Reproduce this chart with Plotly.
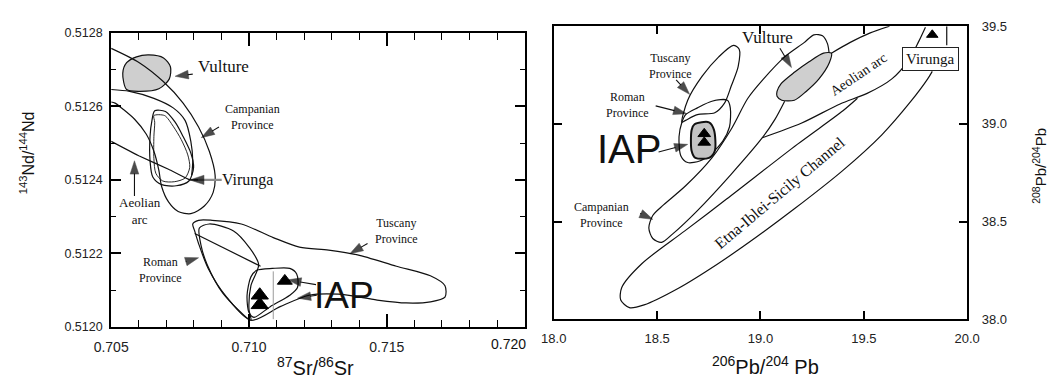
import plotly.graph_objects as go

# ---------------- 87Sr/86Sr vs 143Nd/144Nd (left panel) ----------------
sr_tick_vals = [0.705, 0.710, 0.715]
sr_tick_text = ["0.705", "0.710", "0.715"]
nd_tick_vals = [0.5120, 0.5122, 0.5124, 0.5126, 0.5128]

vulture_sr = [0.70542, 0.70556, 0.70592, 0.70637, 0.70690, 0.70715, 0.70711, 0.70673, 0.70602, 0.70556]
vulture_nd = [0.512690, 0.512719, 0.512735, 0.512740, 0.512732, 0.512708, 0.512675, 0.512648, 0.512641, 0.512646]

campanian_sr = [0.70500, 0.70602, 0.70690, 0.70761, 0.70817, 0.70856, 0.70877, 0.70870, 0.70838, 0.70789,
                0.70743, 0.70708, 0.70683, 0.70673, 0.70655, 0.70627, 0.70585, 0.70542, 0.70514, 0.70500]
campanian_nd = [0.512758, 0.512719, 0.512667, 0.512609, 0.512544, 0.512478, 0.512413, 0.512366, 0.512329, 0.512308,
                0.512314, 0.512340, 0.512382, 0.512426, 0.512478, 0.512525, 0.512565, 0.512593, 0.512609, 0.512612]

aeolian_upper_sr = [0.70500, 0.70567, 0.70655, 0.70725, 0.70768, 0.70789, 0.70796, 0.70792]
aeolian_upper_nd = [0.512646, 0.512641, 0.512622, 0.512596, 0.512562, 0.512505, 0.512452, 0.512413]

aeolian_lower_sr = [0.70500, 0.70602, 0.70708, 0.70785]
aeolian_lower_nd = [0.512505, 0.512465, 0.512429, 0.512400]

virunga_outer_sr = [0.70658, 0.70697, 0.70732, 0.70761, 0.70789, 0.70799, 0.70782, 0.70736, 0.70683, 0.70651, 0.70641, 0.70641, 0.70648]
virunga_outer_nd = [0.512588, 0.512586, 0.512557, 0.512518, 0.512473, 0.512434, 0.512397, 0.512384, 0.512387, 0.512408, 0.512452, 0.512518, 0.512562]
virunga_inner_sr = [0.70655, 0.70694, 0.70725, 0.70754, 0.70778, 0.70785, 0.70768, 0.70729, 0.70687, 0.70662, 0.70655, 0.70655, 0.70658]
virunga_inner_nd = [0.512575, 0.512575, 0.512546, 0.512510, 0.512468, 0.512434, 0.512405, 0.512395, 0.512397, 0.512418, 0.512458, 0.512518, 0.512557]

tuscany_sr = [0.70796, 0.70817, 0.70866, 0.70972, 0.71088, 0.71183, 0.71289, 0.71394, 0.71535, 0.71658, 0.71711, 0.71711,
              0.71658, 0.71570, 0.71465, 0.71324, 0.71218, 0.71113, 0.71007, 0.70919, 0.70852, 0.70817, 0.70803]
tuscany_nd = [0.512280, 0.512290, 0.512290, 0.512280, 0.512243, 0.512217, 0.512209, 0.512196, 0.512165, 0.512139, 0.512112, 0.512081,
              0.512068, 0.512065, 0.512073, 0.512089, 0.512086, 0.512055, 0.512018, 0.512081, 0.512159, 0.512227, 0.512261]

roman_sr = [0.70820, 0.70856, 0.70944, 0.71000, 0.71035, 0.71007, 0.71000, 0.71007, 0.70905, 0.70848, 0.70826]
roman_nd = [0.512269, 0.512280, 0.512261, 0.512217, 0.512170, 0.512112, 0.512047, 0.512018, 0.512092, 0.512170, 0.512222]

divide_sr = [0.70803, 0.71042]
divide_nd = [0.512254, 0.512165]

iap_sr = [0.71007, 0.71028, 0.71085, 0.71148, 0.71173, 0.71176, 0.71148, 0.71077, 0.71018, 0.71000, 0.70993]
iap_nd = [0.512136, 0.512154, 0.512159, 0.512159, 0.512144, 0.512107, 0.512086, 0.512055, 0.512026, 0.512039, 0.512086]

iap_split_sr = [0.71088, 0.71088]
iap_split_nd = [0.512151, 0.512021]

iap_samples_sr = [0.71039, 0.71039, 0.71130]
iap_samples_nd = [0.512086, 0.512060, 0.512125]

# ---------------- 206Pb/204Pb vs 208Pb/204Pb (right panel) ----------------
pb6_tick_vals = [18.0, 18.5, 19.0, 19.5, 20.0]
pb8_tick_vals = [38.0, 38.5, 39.0, 39.5]

vulture_pb6 = [19.080, 19.099, 19.164, 19.235, 19.305, 19.343, 19.333, 19.282, 19.221, 19.164, 19.103, 19.080]
vulture_pb8 = [39.166, 39.205, 39.264, 39.318, 39.362, 39.362, 39.313, 39.229, 39.166, 39.121, 39.121, 39.141]

# Campanian band: upper limb down to the tip, round the tail, lower limb up to the Vulture field
campanian_pb6 = [19.333, 19.324, 19.300, 19.258, 19.211, 19.117, 19.014, 18.939, 18.859, 18.765, 18.638, 18.531,
                 18.479, 18.460, 18.479, 18.521, 18.577, 18.695, 18.859, 19.009, 19.070, 19.117]
campanian_pb8 = [39.352, 39.411, 39.451, 39.456, 39.416, 39.343, 39.229, 39.131, 38.974, 38.826, 38.683, 38.585,
                 38.531, 38.467, 38.413, 38.393, 38.438, 38.556, 38.743, 38.929, 39.023, 39.116]

aeolian_lower_pb6 = [19.009, 19.197, 19.385, 19.516, 19.634, 19.718, 19.765, 19.798]
aeolian_lower_pb8 = [38.929, 39.003, 39.102, 39.156, 39.229, 39.328, 39.421, 39.495]

aeolian_upper_pb6 = [19.343, 19.432, 19.531, 19.624]
aeolian_upper_pb8 = [39.362, 39.416, 39.466, 39.500]

etna_pb6 = [19.831, 19.808, 19.728, 19.587, 19.399, 19.164, 18.977, 18.789, 18.601, 18.437, 18.366, 18.324, 18.329,
            18.427, 18.634, 18.836, 19.178, 19.399, 19.469]
etna_pb8 = [39.269, 39.229, 39.116, 38.944, 38.762, 38.565, 38.418, 38.280, 38.157, 38.073, 38.059, 38.098, 38.162,
            38.285, 38.452, 38.615, 38.895, 39.067, 39.131]

roman_pb6 = [18.638, 18.695, 18.765, 18.840, 18.854, 18.850, 18.817, 18.765, 18.709, 18.648, 18.615, 18.606, 18.620]
roman_pb8 = [39.047, 39.082, 39.116, 39.121, 39.082, 38.984, 38.910, 38.851, 38.811, 38.802, 38.836, 38.934, 39.008]

tuscany_pb6 = [18.620, 18.648, 18.718, 18.798, 18.869, 18.897, 18.892, 18.859, 18.826, 18.779, 18.695, 18.638]
tuscany_pb8 = [39.008, 39.121, 39.244, 39.343, 39.402, 39.382, 39.293, 39.195, 39.106, 39.057, 39.047, 39.018]

iap_pb6 = [18.681, 18.751, 18.775, 18.779, 18.751, 18.685, 18.667, 18.667]
iap_pb8 = [38.998, 39.008, 38.969, 38.861, 38.826, 38.826, 38.861, 38.969]

iap_samples_pb6 = [18.728, 18.728]
iap_samples_pb8 = [38.949, 38.905]

virunga_edge_pb6 = [19.901, 19.901]
virunga_edge_pb8 = [39.500, 39.402]
virunga_sample_pb6 = [19.831]
virunga_sample_pb8 = [39.456]

INK = "#111111"
SERIF = "Liberation Serif"
SANS = "Liberation Sans"

L = ("x", "y")
R = ("x2", "y2")

fig = go.Figure()


def closed(xs, ys):
    return list(xs) + [xs[0]], list(ys) + [ys[0]]


def outline(xs, ys, axes, close=False, fill=None, width=1.2, color=INK, smooth=0.8):
    if close:
        xs, ys = closed(xs, ys)
    fig.add_trace(go.Scatter(
        x=xs, y=ys, mode="lines",
        line=dict(color=color, width=width, shape="spline", smoothing=smooth),
        fill="toself" if fill else None, fillcolor=fill,
        xaxis=axes[0], yaxis=axes[1], hoverinfo="skip", showlegend=False))


def samples(xs, ys, axes, size):
    fig.add_trace(go.Scatter(
        x=xs, y=ys, mode="markers",
        marker=dict(symbol="triangle-up", size=size, color="black", opacity=1,
                    line=dict(color="black", width=1)),
        xaxis=axes[0], yaxis=axes[1], hoverinfo="skip", showlegend=False))


def pointer(tail, tip, axes, color=INK, width=1.1, head_size=14, with_head=True):
    # leader line from a label to a field, with an arrowhead aligned to the segment
    fig.add_trace(go.Scatter(
        x=[tail[0], tip[0]], y=[tail[1], tip[1]], mode="lines+markers" if with_head else "lines",
        line=dict(color=color, width=width),
        marker=dict(symbol="arrow", size=[0, head_size], angleref="previous", color="black",
                    line=dict(width=0.5, color="black")),
        xaxis=axes[0], yaxis=axes[1], hoverinfo="skip", showlegend=False))


# left panel fields
outline(vulture_sr, vulture_nd, L, close=True, fill="#cfcfcf")
outline(campanian_sr, campanian_nd, L)
outline(aeolian_upper_sr, aeolian_upper_nd, L)
outline(aeolian_lower_sr, aeolian_lower_nd, L, smooth=0.3)
outline(virunga_outer_sr, virunga_outer_nd, L, close=True)
outline(virunga_inner_sr, virunga_inner_nd, L, close=True, width=0.9)
outline(tuscany_sr, tuscany_nd, L, close=True)
outline(roman_sr, roman_nd, L, close=True)
outline(divide_sr, divide_nd, L, smooth=0)
outline(iap_sr, iap_nd, L, close=True)
outline(iap_split_sr, iap_split_nd, L, color="#9a9a9a", width=1.0, smooth=0)
samples(iap_samples_sr, iap_samples_nd, L, [15, 15, 13])

# right panel fields
outline(etna_pb6, etna_pb8, R)
outline(campanian_pb6, campanian_pb8, R)
outline(aeolian_lower_pb6, aeolian_lower_pb8, R)
outline(aeolian_upper_pb6, aeolian_upper_pb8, R)
outline(vulture_pb6, vulture_pb8, R, close=True, fill="#cfcfcf")
outline(tuscany_pb6, tuscany_pb8, R, close=True)
outline(roman_pb6, roman_pb8, R, close=True)
outline(iap_pb6, iap_pb8, R, close=True, fill="#c4c4c4", width=2.0)
outline(virunga_edge_pb6, virunga_edge_pb8, R, smooth=0)
samples(iap_samples_pb6, iap_samples_pb8, R, 11)
samples(virunga_sample_pb6, virunga_sample_pb8, R, 10)

# leader arrows, left panel
pointer((0.70796, 0.512688), (0.70732, 0.512682), L)
pointer((0.70891, 0.512544), (0.70827, 0.512515), L)
pointer((0.70901, 0.512400), (0.70800, 0.512400), L, color="#8c8c8c", width=2.2, with_head=False)
pointer((0.70815, 0.512400), (0.70785, 0.512400), L, head_size=15)
pointer((0.705845, 0.512356), (0.705845, 0.512452), L)
pointer((0.70771, 0.512178), (0.70817, 0.512188), L)
pointer((0.71430, 0.512227), (0.71366, 0.512199), L)
pointer((0.71243, 0.512115), (0.71141, 0.512128), L)
pointer((0.71246, 0.512086), (0.71176, 0.512078), L)

# leader arrows, right panel
pointer((19.094, 39.387), (19.150, 39.288), R)
pointer((18.592, 39.225), (18.657, 39.151), R)
pointer((18.493, 39.092), (18.643, 39.052), R)
pointer((18.507, 38.856), (18.648, 38.895), R)
pointer((18.418, 38.541), (18.479, 38.511), R)

annotations = []


def label(text, x, y, axes, size=12, font=SERIF, angle=0, **kw):
    annotations.append(dict(text=text, x=x, y=y, xref=axes[0], yref=axes[1], showarrow=False,
                            font=dict(family=font, size=size, color=INK), textangle=angle,
                            xanchor="center", yanchor="middle", **kw))


# left panel labels
label("Vulture", 0.70908, 0.512708, L, size=17)
label("Campanian<br>Province", 0.71011, 0.512570, L, size=12)
label("Virunga", 0.70995, 0.512400, L, size=16)
label("Aeolian<br>arc", 0.70606, 0.512314, L, size=13)
label("Roman<br>Province", 0.70680, 0.512154, L, size=12)
label("Tuscany<br>Province", 0.71535, 0.512261, L, size=12)
label("IAP", 0.71345, 0.512086, L, size=37, font=SANS)
label("0.720", 0.7200, 0.51200, L, size=14, font=SANS, yshift=-17, xshift=-16)

# right panel labels
label("Vulture", 19.033, 39.441, R, size=17)
label("Tuscany<br>Province", 18.563, 39.298, R, size=12)
label("Roman<br>Province", 18.357, 39.097, R, size=12)
label("IAP", 18.366, 38.870, R, size=40, font=SANS)
label("Campanian<br>Province", 18.230, 38.531, R, size=12)
label("Etna-Iblei-Sicily Channel", 19.095, 38.645, R, size=16, angle=-40)
label("Aeolian arc", 19.474, 39.254, R, size=14, angle=-34)
label("Virunga", 19.822, 39.333, R, size=15, bgcolor="white", bordercolor="#222", borderwidth=1, borderpad=3)

# axis titles
annotations += [
    dict(text="<sup>87</sup>Sr/<sup>86</sup>Sr", x=0.2915, y=0.0, xref="paper", yref="paper", yshift=-9,
         showarrow=False, font=dict(family=SANS, size=20, color=INK), xanchor="center", yanchor="bottom"),
    dict(text="<sup>206</sup>Pb/<sup>204</sup> Pb", x=0.7312, y=0.0, xref="paper", yref="paper", yshift=-8,
         showarrow=False, font=dict(family=SANS, size=20, color=INK), xanchor="center", yanchor="bottom"),
    dict(text="<sup>143</sup>Nd/<sup>144</sup>Nd", x=0.011, y=0.60, xref="paper", yref="paper", textangle=-90,
         xshift=-14, showarrow=False, font=dict(family=SANS, size=16, color=INK), xanchor="left", yanchor="middle"),
    dict(text="<sup>208</sup>Pb/<sup>204</sup>Pb", x=0.998, y=0.566, xref="paper", yref="paper", textangle=-90,
         xshift=13, showarrow=False, font=dict(family=SANS, size=15, color=INK), xanchor="right", yanchor="middle"),
]

axis_common = dict(showgrid=False, zeroline=False, showline=True, linecolor="black", linewidth=2,
                   mirror="allticks", ticks="inside", tickcolor="black", tickwidth=1.5)

fig.update_layout(
    width=1053, height=380, margin=dict(l=0, r=0, t=0, b=0),
    paper_bgcolor="white", plot_bgcolor="white", showlegend=False,
    annotations=annotations,
    xaxis=dict(domain=[96 / 1053, 522 / 1053], range=[0.705, 0.720], tickvals=sr_tick_vals,
               ticktext=sr_tick_text, ticklen=13, ticklabelstandoff=6,
               tickfont=dict(family=SANS, size=14, color="#222"),
               minor=dict(dtick=0.001, tick0=0.705, ticks="inside", ticklen=7, tickcolor="black", tickwidth=1.2),
               anchor="y", **axis_common),
    yaxis=dict(domain=[1 - 333 / 380, 1 - 27 / 380], range=[0.5120, 0.5128], tickvals=nd_tick_vals,
               tickformat=".4f", ticklen=10, ticklabelstandoff=4,
               tickfont=dict(family=SANS, size=12.5, color="#222"),
               minor=dict(dtick=0.0001, tick0=0.5120, ticks="inside", ticklen=5, tickcolor="black", tickwidth=1.2),
               anchor="x", **axis_common),
    xaxis2=dict(domain=[552 / 1053, 978 / 1053], range=[18.0, 20.0], tickvals=pb6_tick_vals,
                tickformat=".1f", ticklen=8, ticklabelstandoff=6,
                tickfont=dict(family=SANS, size=13, color="#222"), anchor="y2", **axis_common),
    yaxis2=dict(domain=[1 - 325 / 380, 1 - 20 / 380], range=[38.0, 39.5], tickvals=pb8_tick_vals,
                tickformat=".1f", ticklen=8, side="right", ticklabelstandoff=10,
                tickfont=dict(family=SANS, size=13, color="#222"), anchor="x2", **axis_common),
)

fig.write_html("out.html")
